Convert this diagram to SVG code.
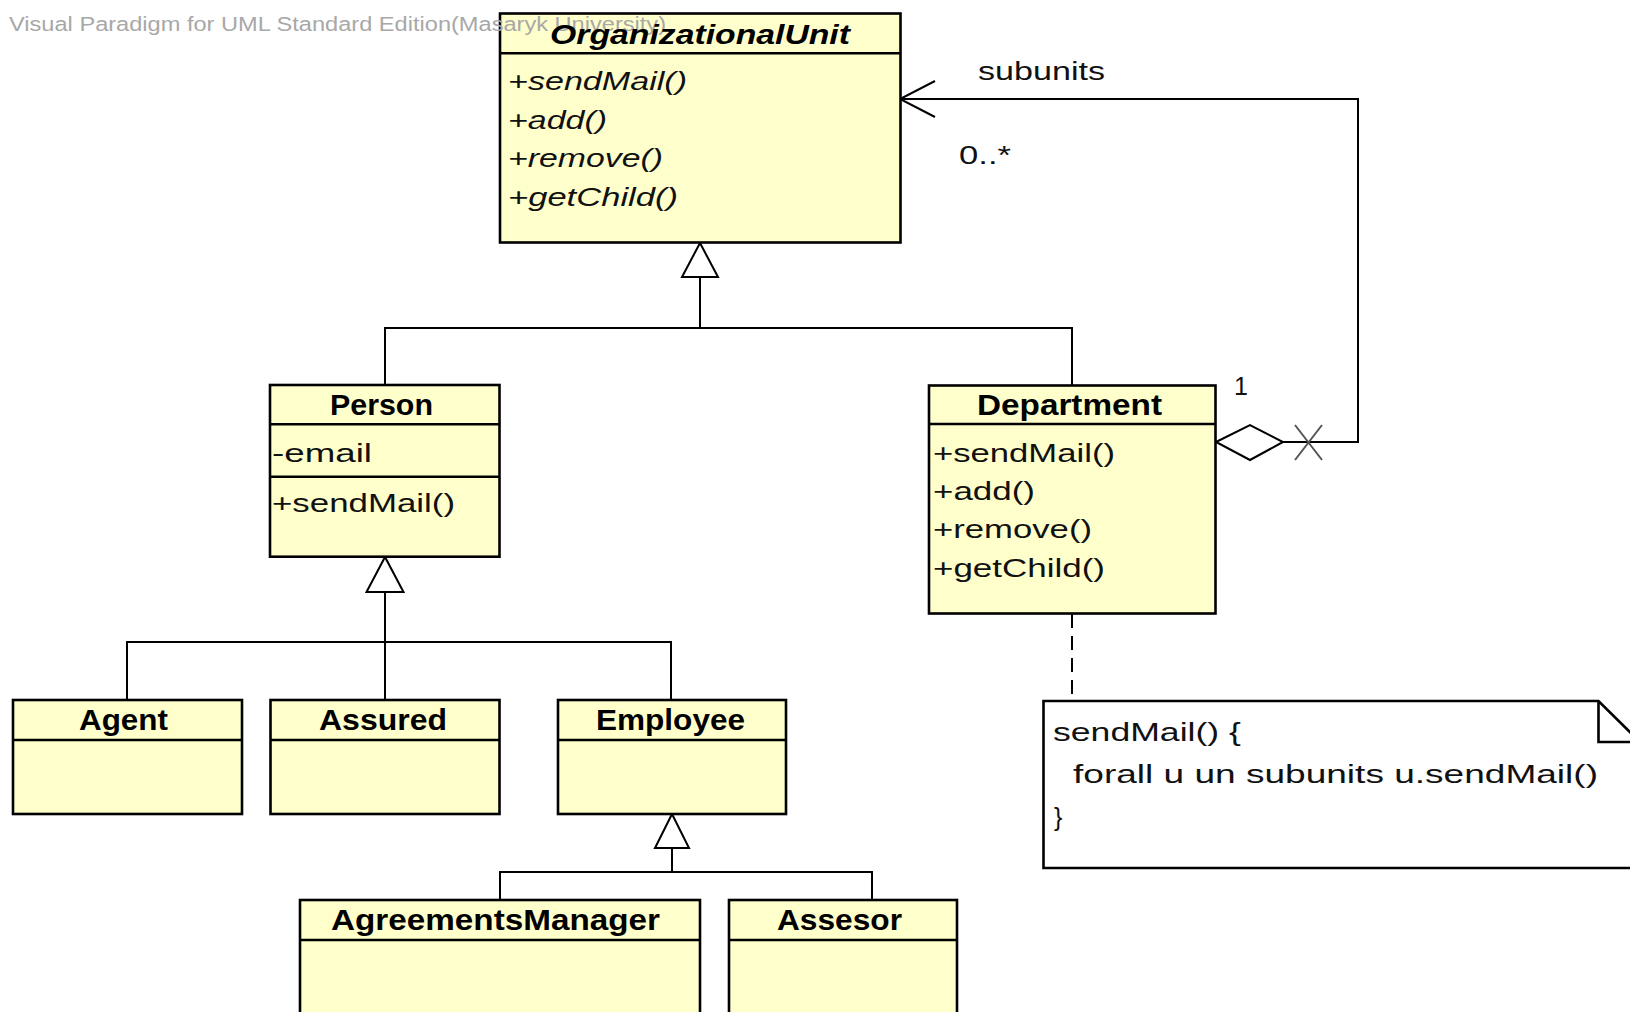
<svg xmlns="http://www.w3.org/2000/svg" width="1630" height="1012" viewBox="0 0 1630 1012">
<style>
.box{fill:#FFFFCC;stroke:#000;stroke-width:2.6}
.sep{stroke:#000;stroke-width:2.6;fill:none}
.ln{stroke:#000;stroke-width:2;fill:none}
.tri{fill:#fff;stroke:#000;stroke-width:2}
.hd{font-family:"Liberation Sans",Arial,sans-serif;font-weight:bold;font-size:29px;fill:#000}
.hdi{font-family:"Liberation Sans",Arial,sans-serif;font-weight:bold;font-style:italic;font-size:28px;fill:#000}
.op{font-family:"Liberation Sans",Arial,sans-serif;font-size:25px;fill:#111}
.opi{font-family:"Liberation Sans",Arial,sans-serif;font-style:italic;font-size:25px;fill:#111}
.lbl{font-family:"Liberation Sans",Arial,sans-serif;font-size:25px;fill:#111}
.wm{font-family:"Liberation Sans",Arial,sans-serif;font-size:20px;fill:#a8a8a8}
</style>
<rect width="1630" height="1012" fill="#fff"/>
<g id="connectors">
  <polygon class="tri" points="700,243 682,277 718,277"/>
  <path class="ln" d="M700,277 V328 M385,385 V328 H1072 V385"/>
  <polygon class="tri" points="385,557 366.5,592 403.5,592"/>
  <path class="ln" d="M385,592 V700 M127,700 V642 H671 V700"/>
  <polygon class="tri" points="672,814 655,848 689,848"/>
  <path class="ln" d="M672,848 V872 M500,900 V872 H872 V900"/>
  <path class="ln" d="M1283,442 H1358 V99 H900"/>
  <polyline class="ln" points="935,81 900,99 935,117"/>
  <polygon class="tri" points="1216,442 1250,425 1283,442 1250,460"/>
  <path d="M1295,425 L1322,460 M1322,425 L1295,460" stroke="#555" stroke-width="2" fill="none"/>
  <text class="lbl" x="978" y="80" textLength="127" lengthAdjust="spacingAndGlyphs">subunits</text>
  <text class="lbl" x="959" y="164" textLength="52" lengthAdjust="spacingAndGlyphs">0..*</text>
  <text class="lbl" x="1234" y="395" font-size="27">1</text>
  <path d="M1072,614 V700" stroke="#000" stroke-width="2" stroke-dasharray="14 8" fill="none"/>
</g>
<g id="OrganizationalUnit">
  <rect class="box" x="500" y="13.5" width="400.5" height="229"/>
  <path class="sep" d="M500,53.3 H900.5"/>
  <text class="wm" x="9" y="31" textLength="657" lengthAdjust="spacingAndGlyphs">Visual Paradigm for UML Standard Edition(Masaryk University)</text>
  <text class="hdi" x="550" y="43.5" textLength="300" lengthAdjust="spacingAndGlyphs">OrganizationalUnit</text>
  <text class="opi" x="508" y="90" textLength="179" lengthAdjust="spacingAndGlyphs">+sendMail()</text>
  <text class="opi" x="508" y="128.5" textLength="99" lengthAdjust="spacingAndGlyphs">+add()</text>
  <text class="opi" x="508" y="167" textLength="155" lengthAdjust="spacingAndGlyphs">+remove()</text>
  <text class="opi" x="508" y="205.5" textLength="170" lengthAdjust="spacingAndGlyphs">+getChild()</text>
</g>
<g id="Person">
  <rect class="box" x="270" y="385" width="229.5" height="171.7"/>
  <path class="sep" d="M270,424.3 H499.5 M270,476.7 H499.5"/>
  <text class="hd" x="330" y="415" textLength="103" lengthAdjust="spacingAndGlyphs">Person</text>
  <text class="op" x="272" y="461.7" textLength="100" lengthAdjust="spacingAndGlyphs">-email</text>
  <text class="op" x="272" y="511.7" textLength="183" lengthAdjust="spacingAndGlyphs">+sendMail()</text>
</g>
<g id="Department">
  <rect class="box" x="929" y="385.5" width="286.5" height="228"/>
  <path class="sep" d="M929,424 H1215.5"/>
  <text class="hd" x="977" y="415" textLength="185" lengthAdjust="spacingAndGlyphs">Department</text>
  <text class="op" x="933" y="461.7" textLength="182" lengthAdjust="spacingAndGlyphs">+sendMail()</text>
  <text class="op" x="933" y="500" textLength="102" lengthAdjust="spacingAndGlyphs">+add()</text>
  <text class="op" x="933" y="538.4" textLength="159" lengthAdjust="spacingAndGlyphs">+remove()</text>
  <text class="op" x="933" y="576.8" textLength="172" lengthAdjust="spacingAndGlyphs">+getChild()</text>
</g>
<g id="Agent">
  <rect class="box" x="13" y="700" width="229" height="114"/>
  <path class="sep" d="M13,740 H242"/>
  <text class="hd" x="79" y="730" textLength="89" lengthAdjust="spacingAndGlyphs">Agent</text>
</g>
<g id="Assured">
  <rect class="box" x="270.5" y="700" width="229" height="114"/>
  <path class="sep" d="M270.5,740 H499.5"/>
  <text class="hd" x="319" y="730" textLength="128" lengthAdjust="spacingAndGlyphs">Assured</text>
</g>
<g id="Employee">
  <rect class="box" x="558" y="700" width="228" height="114"/>
  <path class="sep" d="M558,740 H786"/>
  <text class="hd" x="596" y="730" textLength="149" lengthAdjust="spacingAndGlyphs">Employee</text>
</g>
<g id="AgreementsManager">
  <rect class="box" x="300" y="900" width="400" height="130"/>
  <path class="sep" d="M300,940 H700"/>
  <text class="hd" x="331" y="930" textLength="329" lengthAdjust="spacingAndGlyphs">AgreementsManager</text>
</g>
<g id="Assesor">
  <rect class="box" x="729" y="900" width="228" height="130"/>
  <path class="sep" d="M729,940 H957"/>
  <text class="hd" x="777" y="930" textLength="125" lengthAdjust="spacingAndGlyphs">Assesor</text>
</g>
<g id="Note">
  <path d="M1043.5,701 H1598.5 L1640,742 V868 H1043.5 Z" fill="#fff" stroke="#000" stroke-width="2.6"/>
  <path d="M1598.5,701 V742 H1640" fill="none" stroke="#000" stroke-width="2.6"/>
  <text class="lbl" x="1053" y="741" textLength="188" lengthAdjust="spacingAndGlyphs">sendMail() {</text>
  <text class="lbl" x="1073" y="783" textLength="525" lengthAdjust="spacingAndGlyphs">forall u un subunits u.sendMail()</text>
  <text class="lbl" x="1054" y="826">}</text>
</g>
</svg>
